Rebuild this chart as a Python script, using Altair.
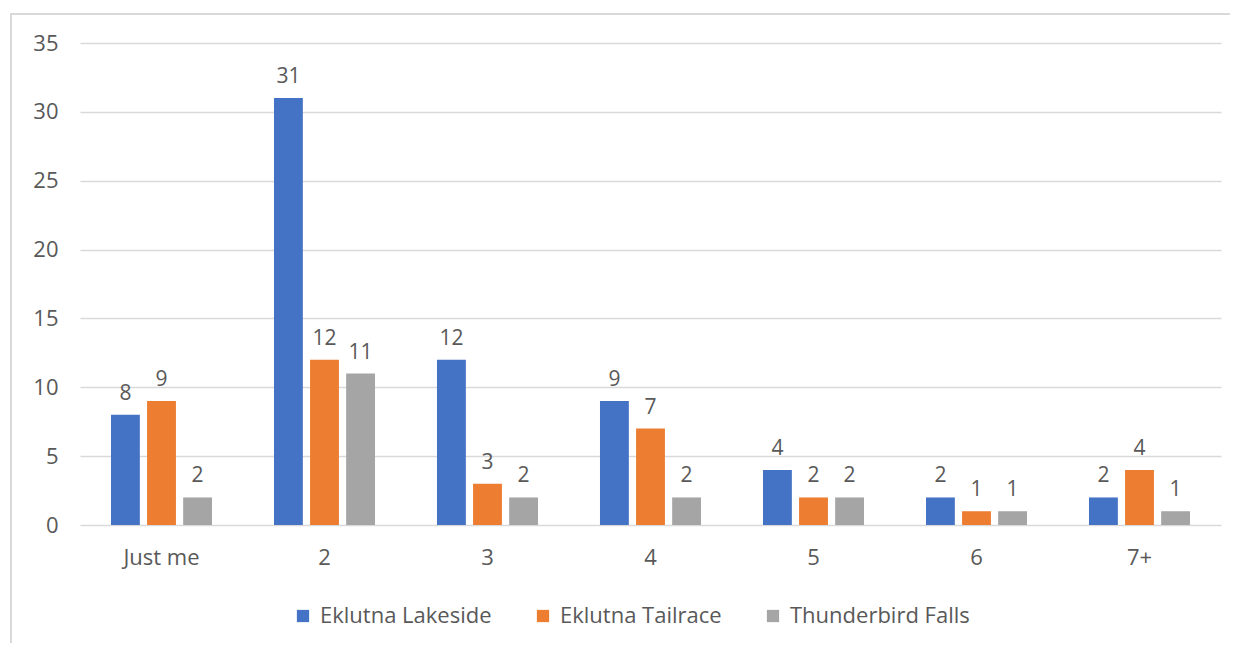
import altair as alt
import pandas as pd

categories = ["Just me", "2", "3", "4", "5", "6", "7+"]
series = ["Eklutna Lakeside", "Eklutna Tailrace", "Thunderbird Falls"]
lakeside = [8, 31, 12, 9, 4, 2, 2]
tailrace = [9, 12, 3, 7, 2, 1, 4]
thunderbird = [2, 11, 2, 2, 2, 1, 1]
colors = ["#4472C4", "#ED7D31", "#A5A5A5"]

rows = []
for s, vals in zip(series, [lakeside, tailrace, thunderbird]):
    for c, v in zip(categories, vals):
        rows.append({"cat": c, "series": s, "value": v})
df = pd.DataFrame(rows)

FONT = "Open Sans"
TXT = "#595959"

x_enc = alt.X("cat:N", sort=categories, title=None,
              scale=alt.Scale(paddingInner=0.38, paddingOuter=0.19),
              axis=alt.Axis(labelAngle=0, ticks=False, domain=False, grid=False,
                            labelPadding=22, labelFontSize=22, labelColor=TXT,
                            labelFont=FONT))
xo_enc = alt.XOffset("series:N", sort=series, scale=alt.Scale(paddingInner=0.2))

base = alt.Chart(df)

bars = base.mark_bar().encode(
    x=x_enc,
    xOffset=xo_enc,
    y=alt.Y("value:Q", title=None,
            scale=alt.Scale(domain=[0, 35], nice=False),
            axis=alt.Axis(values=[0, 5, 10, 15, 20, 25, 30, 35], ticks=False,
                          domain=False, gridColor="#D9D9D9", gridWidth=1.3,
                          labelPadding=22, labelFontSize=22, labelColor=TXT,
                          labelFont=FONT)),
    color=alt.Color("series:N", sort=series,
                    scale=alt.Scale(domain=series, range=colors),
                    legend=alt.Legend(title=None, orient="none", direction="horizontal",
                                      legendX=212, legendY=562,
                                      symbolType="square", symbolSize=150,
                                      symbolStrokeWidth=0, labelFontSize=22,
                                      labelColor=TXT, labelFont=FONT, labelLimit=400,
                                      columnPadding=40, symbolOffset=0,
                                      labelOffset=6)),
)

labels = base.mark_text(baseline="bottom", dy=-11, fontSize=21, color=TXT, font=FONT).encode(
    x=alt.X("cat:N", sort=categories),
    xOffset=alt.XOffset("series:N", sort=series),
    y="value:Q",
    text="value:Q",
)

frame = alt.Chart(pd.DataFrame({"a": [0]})).mark_rect(
    fill=None, stroke="#D9D9D9", strokeWidth=2
).encode(
    x=alt.value(-69), x2=alt.value(1180), y=alt.value(-29), y2=alt.value(700)
)

chart = alt.layer(frame, bars, labels).properties(
    width=1141, height=482,
    padding={"left": 72, "top": 35, "right": 9, "bottom": 118},
    autosize=alt.AutoSizeParams(type="none"),
).configure(background="white", view=alt.ViewConfig(stroke=None))

chart.save("out.html", embed_options={"renderer": "svg", "actions": False})
